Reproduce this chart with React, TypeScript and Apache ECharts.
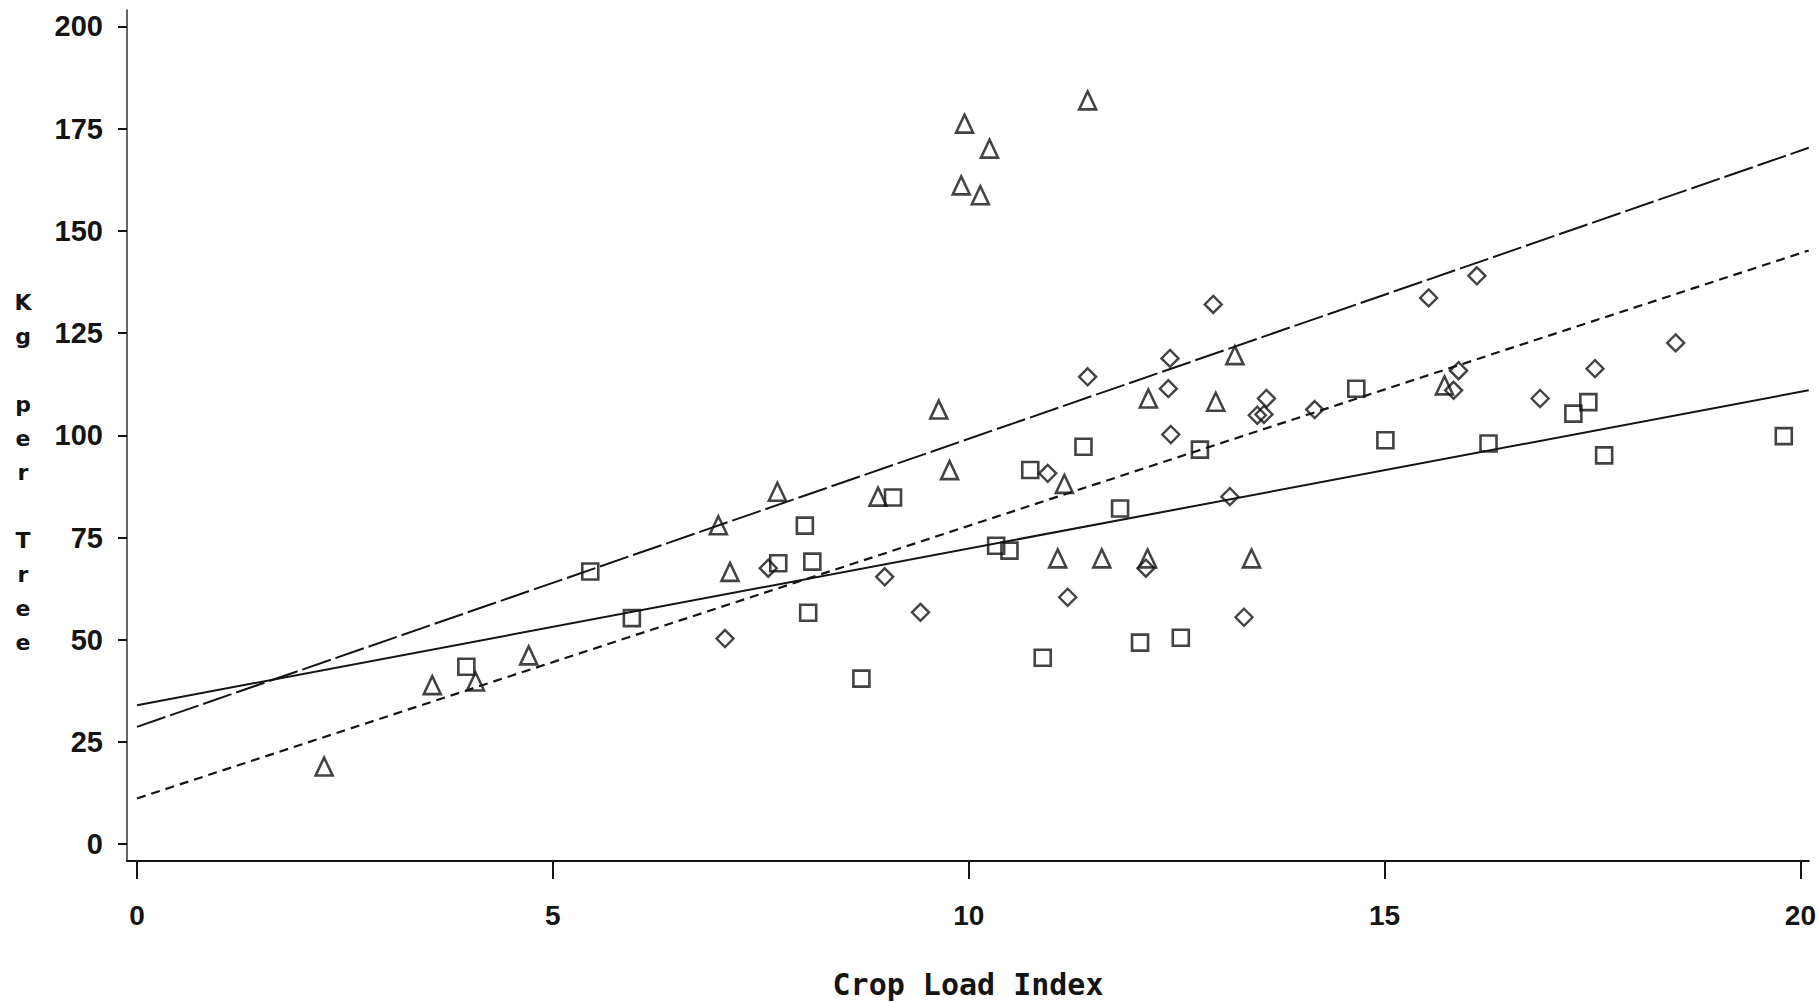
import React, { useEffect, useRef } from "react";
import * as echarts from "echarts";

// Tick values
const xTicks = [0, 5, 10, 15, 20];
const yTicks = [0, 25, 50, 75, 100, 125, 150, 175, 200];

// Scatter data [Crop Load Index, Kg per Tree]
const squarePts = [
  [3.96, 43.4], [5.45, 66.7], [5.95, 55.3], [7.71, 68.7], [8.03, 77.9],
  [8.07, 56.6], [8.12, 69.1], [8.71, 40.5], [9.09, 84.8], [10.33, 73.0],
  [10.49, 71.8], [10.74, 91.5], [10.89, 45.6], [11.38, 97.2], [11.82, 82.1],
  [12.06, 49.3], [12.55, 50.5], [12.78, 96.5], [14.66, 111.4], [15.01, 98.8],
  [16.25, 98.0], [17.27, 105.3], [17.45, 108.1], [17.64, 95.1], [19.8, 99.8],
];
const trianglePts = [
  [2.25, 19.0], [3.55, 38.9], [4.07, 39.8], [4.71, 46.2], [6.99, 78.0],
  [7.13, 66.6], [7.7, 86.2], [8.91, 85.0], [9.64, 106.3], [9.77, 91.5],
  [9.91, 161.1], [9.95, 176.2], [10.14, 158.7], [10.25, 170.1], [11.07, 69.9],
  [11.15, 88.1], [11.43, 181.9], [11.6, 69.9], [12.15, 69.9], [12.16, 109.0],
  [12.97, 108.2], [13.2, 119.6], [13.4, 69.9], [15.72, 112.2],
];
const diamondPts = [
  [7.07, 50.3], [7.59, 67.5], [8.99, 65.4], [9.42, 56.7], [10.95, 90.7],
  [11.19, 60.4], [11.43, 114.3], [12.13, 67.5], [12.4, 111.4], [12.42, 118.8],
  [12.43, 100.2], [12.94, 132.0], [13.14, 85.0], [13.31, 55.5], [13.47, 104.9],
  [13.55, 105.1], [13.58, 109.0], [14.16, 106.3], [15.53, 133.6], [15.83, 111.0],
  [15.89, 115.8], [16.11, 139.0], [16.87, 109.0], [17.53, 116.3], [18.5, 122.6],
];

// Regression line endpoints
const lineX = [0, 20.1];
const squareFit = [34.0, 111.0];
const triangleFit = [28.7, 170.3];
const diamondFit = [11.2, 145.2];

const xName = "Crop Load Index";
const yNameLines = ["K", "g", " ", "p", "e", "r", " ", "T", "r", "e", "e"];

const INK = "#141414";

export default function App() {
  const ref = useRef<HTMLDivElement>(null);
  useEffect(() => {
    if (!ref.current) return;
    const chart = echarts.init(ref.current, null, { renderer: "svg" });
    const pair = (ys: number[]) => lineX.map((x, i) => [x, ys[i]]);
    const symStyle = { color: "rgba(0,0,0,0)", borderColor: INK, borderWidth: 2.6 };
    chart.setOption({
      animation: false,
      backgroundColor: "#ffffff",
      grid: { left: 127, top: 10, width: 1686, height: 851, containLabel: false },
      xAxis: {
        type: "value",
        min: -0.12,
        max: 20.1,
        axisLine: { show: true, onZero: false, lineStyle: { color: INK, width: 2 } },
        axisTick: { show: true, length: 18, customValues: xTicks, lineStyle: { color: INK, width: 2 } },
        axisLabel: {
          customValues: xTicks,
          margin: 40,
          fontFamily: "Liberation Sans",
          fontWeight: "bold",
          fontSize: 28,
          color: INK,
        },
        splitLine: { show: false },
      },
      yAxis: {
        type: "value",
        min: -4.1,
        max: 204,
        axisLine: { show: true, onZero: false, lineStyle: { color: "#333", width: 1.5 } },
        axisTick: { show: true, length: 9, customValues: yTicks, lineStyle: { color: INK, width: 2 } },
        axisLabel: {
          customValues: yTicks,
          margin: 24,
          fontFamily: "Liberation Sans",
          fontWeight: "bold",
          fontSize: 29,
          color: INK,
        },
        splitLine: { show: false },
      },
      graphic: [
        {
          type: "text",
          x: 968,
          y: 984,
          style: {
            text: xName,
            fontFamily: "DejaVu Sans Mono",
            fontWeight: "bold",
            fontSize: 30,
            fill: INK,
            align: "center",
            verticalAlign: "middle",
          },
        },
        {
          type: "text",
          x: 23,
          y: 472,
          style: {
            text: yNameLines.join("\n"),
            fontFamily: "DejaVu Sans",
            fontWeight: "bold",
            fontSize: 22,
            lineHeight: 34,
            fill: INK,
            align: "center",
            verticalAlign: "middle",
          },
        },
      ],
      series: [
        {
          type: "line",
          data: pair(squareFit),
          showSymbol: false,
          lineStyle: { color: INK, width: 2, type: "solid" },
          z: 1,
        },
        {
          type: "line",
          data: pair(triangleFit),
          showSymbol: false,
          lineStyle: { color: INK, width: 2, type: [30, 5] },
          z: 1,
        },
        {
          type: "line",
          data: pair(diamondFit),
          showSymbol: false,
          lineStyle: { color: INK, width: 2.2, type: [9, 6] },
          z: 1,
        },
        {
          type: "scatter",
          data: squarePts,
          symbol: "rect",
          symbolSize: 16,
          itemStyle: symStyle,
          z: 3,
        },
        {
          type: "scatter",
          data: trianglePts,
          symbol: "triangle",
          symbolSize: [17, 18],
          itemStyle: symStyle,
          z: 3,
        },
        {
          type: "scatter",
          data: diamondPts,
          symbol: "diamond",
          symbolSize: [17, 17],
          itemStyle: { ...symStyle, borderWidth: 2.4 },
          z: 3,
        },
      ],
    });
    return () => chart.dispose();
  }, []);
  return (
    <div
      ref={ref}
      style={{ position: "fixed", left: 0, top: 0, width: 1819, height: 1003, background: "#fff" }}
    />
  );
}
